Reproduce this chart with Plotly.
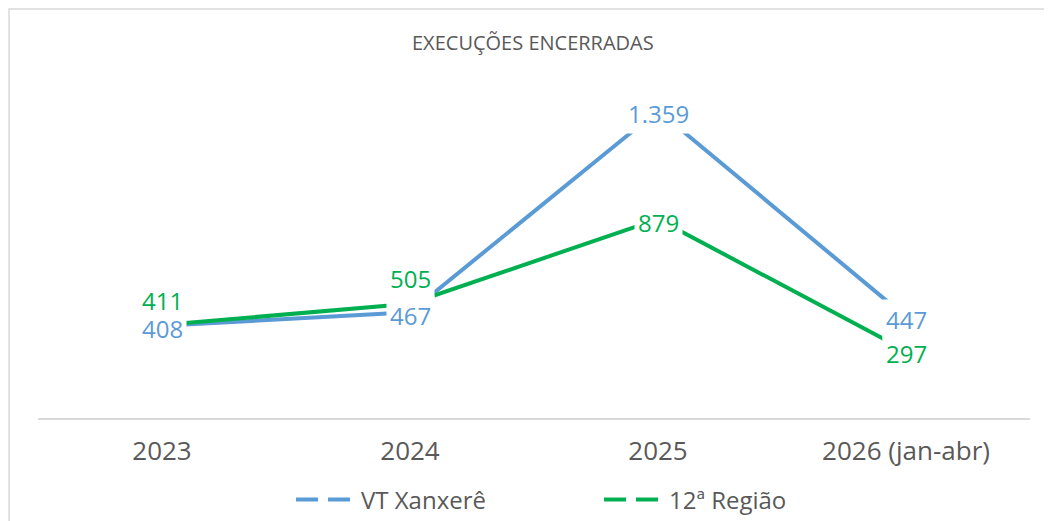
import plotly.graph_objects as go

anos = ["2023", "2024", "2025", "2026 (jan-abr)"]
vt_xanxere = [408, 467, 1359, 447]
regiao12 = [411, 505, 879, 297]

azul = "#5B9BD5"
verde = "#00B050"
cinza = "#595959"

fig = go.Figure()
fig.add_trace(go.Scatter(x=anos, y=vt_xanxere, mode="lines", line=dict(color=azul, width=4),
                         showlegend=False, hoverinfo="skip"))
fig.add_trace(go.Scatter(x=anos, y=regiao12, mode="lines", line=dict(color=verde, width=4),
                         showlegend=False, hoverinfo="skip"))

# entradas da legenda (traço tracejado como no Excel)
fig.add_trace(go.Scatter(x=[None], y=[None], mode="lines", name="VT Xanxerê",
                         line=dict(color=azul, width=4, dash="22px,10px")))
fig.add_trace(go.Scatter(x=[None], y=[None], mode="lines", name="12ª Região",
                         line=dict(color=verde, width=4, dash="22px,10px")))

def fmt(v):
    return f"{v:,}".replace(",", ".")

# rótulos de dados com fundo branco (cobrem a linha); x = posição da categoria
for i in range(len(anos)):
    fig.add_annotation(x=i, y=vt_xanxere[i], text=fmt(vt_xanxere[i]), showarrow=False,
                       yshift=-3,
                       font=dict(color=azul, size=24, family="Open Sans"), bgcolor="white",
                       borderpad=3)
for i in range(len(anos)):
    shift = 25 if i < 2 else -3
    fig.add_annotation(x=i, y=regiao12[i], text=fmt(regiao12[i]), showarrow=False, yshift=shift,
                       font=dict(color=verde, size=24, family="Open Sans"), bgcolor="white",
                       borderpad=3)

fig.add_annotation(x=0.499, y=1.036, xref="paper", yref="paper", text="EXECUÇÕES ENCERRADAS",
                   showarrow=False, yanchor="middle",
                   font=dict(color=cinza, size=20, family="Open Sans"))

# borda da área do gráfico
fig.add_shape(type="rect", xref="paper", yref="paper", x0=-0.0292, y0=-0.35, x1=1.1, y1=1.13,
              line=dict(color="#D9D9D9", width=1.5), layer="below")

fig.update_xaxes(type="category", range=[-0.5, 3.5],
                 showline=True, linecolor="#D9D9D9", linewidth=1.5, showgrid=False,
                 ticks="", ticklabelstandoff=9,
                 tickfont=dict(color=cinza, size=26, family="Open Sans"))
fig.update_yaxes(range=[0, 1600], visible=False, showgrid=False)

fig.update_layout(
    width=1052, height=521,
    margin=dict(l=30, r=30, t=48, b=111, autoexpand=False),
    plot_bgcolor="white", paper_bgcolor="white",
    showlegend=True,
    legend=dict(orientation="h", x=0.5655, xanchor="center", yref="container",
                y=0.0557, yanchor="middle",
                font=dict(color=cinza, size=24, family="Open Sans"),
                itemwidth=60, entrywidth=233, itemclick=False),
)

fig.write_html("out.html")
